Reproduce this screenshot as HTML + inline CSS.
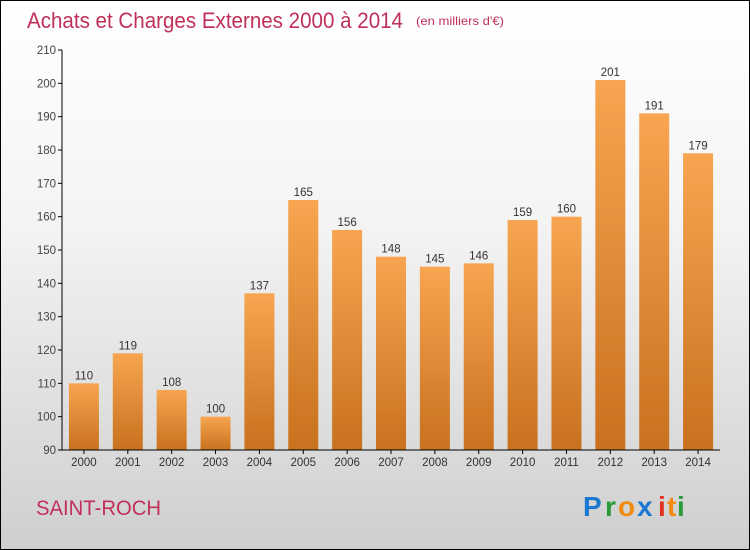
<!DOCTYPE html>
<html><head><meta charset="utf-8"><style>
html,body{margin:0;padding:0}
body{width:750px;height:550px;overflow:hidden;font-family:"Liberation Sans",sans-serif}
#wrap{position:absolute;left:0;top:0;width:748px;height:548px;border:1px solid #000;background:linear-gradient(#fff 0%,#f4f4f4 40%,#cfcfcf 100%)}
</style></head><body>
<div id="wrap">
<svg id="chart" width="750" height="550" style="position:absolute;left:-1px;top:-1px">
<defs><linearGradient id="bg" x1="0" y1="0" x2="0" y2="1"><stop offset="0" stop-color="#f7a550"/><stop offset="1" stop-color="#c8711e"/></linearGradient></defs>
<text x="27" y="28" font-size="22" fill="#c0305a" textLength="376" lengthAdjust="spacingAndGlyphs">Achats et Charges Externes 2000 à 2014</text>
<text x="416" y="25" font-size="12" fill="#c0305a" textLength="88" lengthAdjust="spacingAndGlyphs">(en milliers d'€)</text>
<text x="36" y="515" font-size="21" fill="#c0305a" textLength="125" lengthAdjust="spacingAndGlyphs">SAINT-ROCH</text>
<g font-size="28" font-family="'Liberation Sans',sans-serif" font-weight="bold">
<text x="583" y="516" fill="#1a78d0">P</text><text x="605" y="516" fill="#2a9a3a">r</text><text x="618" y="516" fill="#f08a10">o</text><text x="637" y="516" fill="#1a78d0">x</text><text x="658" y="516" fill="#e03020">i</text><text x="667" y="516" fill="#f08a10">t</text><text x="677" y="516" fill="#2a9a3a">i</text>
</g>
<g id="plot"></g>
</svg>
</div>
<script>
const categories=["2000","2001","2002","2003","2004","2005","2006","2007","2008","2009","2010","2011","2012","2013","2014"];
const values=[110,119,108,100,137,165,156,148,145,146,159,160,201,191,179];
const yTicks=[90,100,110,120,130,140,150,160,170,180,190,200,210];
const NS="http://www.w3.org/2000/svg";
const g=document.getElementById('plot');
const x0=62,x1=720,y0=450,y1=50,vmin=90,vmax=210;
const step=(x1-x0)/categories.length;
const y=v=>y0-(v-vmin)/(vmax-vmin)*(y0-y1);
const xc=i=>x0+step*(i+0.5);
function el(t,a){const e=document.createElementNS(NS,t);for(const k in a)e.setAttribute(k,a[k]);g.appendChild(e);return e;}
yTicks.forEach(t=>{
 const l=el('line',{x1:x0-4,x2:x0,y1:y(t),y2:y(t),stroke:'#000'});
 
 
 const tx=el('text',{x:x0-6,y:y(t)+4,'text-anchor':'end','font-size':11.5,fill:'#444'});
 tx.textContent=t;
 
 
});
categories.forEach((c,i)=>{
 const v=values[i];
 const r=el('rect',{x:xc(i)-15,y:y(v),width:30,height:y0-y(v),fill:'url(#bg)'});
 
 
 const vl=el('text',{x:xc(i),y:y(v)-4,'text-anchor':'middle','font-size':11.5,fill:'#333'});
 vl.textContent=v;
 
 
 const tk=el('line',{x1:xc(i),x2:xc(i),y1:y0,y2:y0+4,stroke:'#000'});
 
 
 const xl=el('text',{x:xc(i),y:y0+16,'text-anchor':'middle','font-size':11.5,fill:'#333'});
 xl.textContent=c;
 
 
});
const ya=el('line',{x1:x0,x2:x0,y1:y1,y2:y0,stroke:'#000'});


const xa=el('line',{x1:x0,x2:x1,y1:y0,y2:y0,stroke:'#000'});


</script>
</body></html>
